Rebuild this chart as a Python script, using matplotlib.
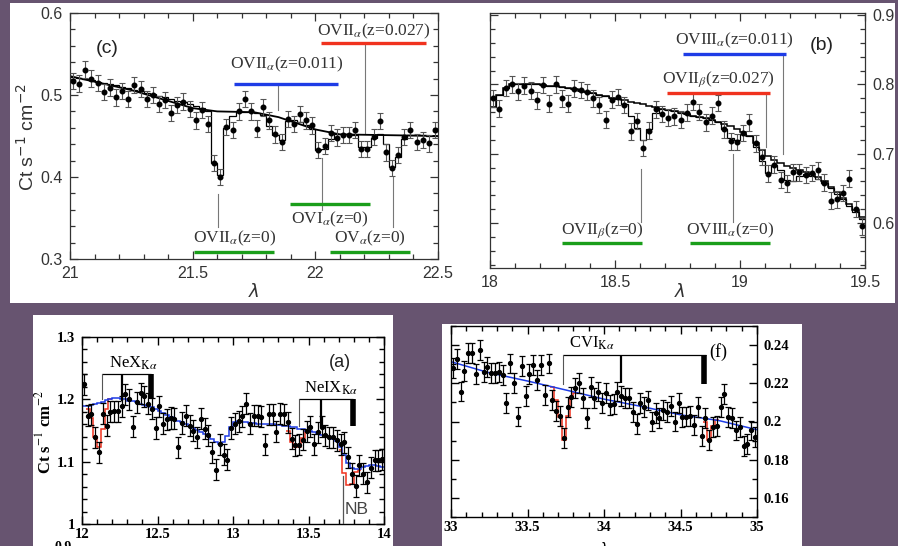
import numpy as np
import matplotlib
matplotlib.use("Agg")
import matplotlib.pyplot as plt
from matplotlib.patches import Rectangle
from matplotlib.ticker import MultipleLocator

# ---------------- spectra (0.025 Å bins) ----------------
# (c) 21.0 - 22.5 Å
c_lam0, c_dlam = 21.0, 0.025
c_flux = [0.517, 0.514, 0.531, 0.520, 0.515, 0.504, 0.509, 0.497, 0.505, 0.495,
          0.512, 0.507, 0.495, 0.500, 0.489, 0.494, 0.478, 0.488, 0.492, 0.483,
          0.469, 0.482, 0.465, 0.417, 0.400, 0.461, 0.457, 0.480, 0.495, 0.480,
          0.459, 0.485, 0.469, 0.452, 0.443, 0.471, 0.465, 0.477, 0.469, 0.463,
          0.433, 0.438, 0.454, 0.448, 0.451, 0.451, 0.457, 0.434, 0.434, 0.449,
          0.468, 0.430, 0.411, 0.427, 0.449, 0.457, 0.443, 0.445, 0.441, 0.457]
c_err = 0.010
c_model = [0.522, 0.521, 0.519, 0.518, 0.516, 0.515, 0.513, 0.512, 0.510, 0.508,
           0.506, 0.505, 0.503, 0.501, 0.499, 0.497, 0.495, 0.493, 0.491, 0.489,
           0.486, 0.484, 0.481, 0.417, 0.402, 0.460, 0.474, 0.479, 0.479, 0.479,
           0.478, 0.476, 0.462, 0.451, 0.445, 0.468, 0.470, 0.467, 0.464, 0.458,
           0.433, 0.434, 0.446, 0.453, 0.452, 0.452, 0.451, 0.437, 0.436, 0.448,
           0.452, 0.440, 0.412, 0.424, 0.446, 0.451, 0.451, 0.451, 0.450, 0.450]
c_cont_lam = [21.0, 21.25, 21.5, 21.6, 21.75, 21.85, 22.0, 22.1, 22.5]
c_cont = [0.523, 0.506, 0.484, 0.480, 0.479, 0.473, 0.458, 0.452, 0.450]

# (b) 18.0 - 19.5 Å
b_lam0, b_dlam = 18.0, 0.025
b_flux = [0.780, 0.765, 0.795, 0.800, 0.790, 0.798, 0.791, 0.777, 0.799, 0.772,
          0.800, 0.780, 0.772, 0.794, 0.792, 0.789, 0.780, 0.770, 0.749, 0.778,
          0.782, 0.770, 0.732, 0.747, 0.708, 0.733, 0.764, 0.757, 0.752, 0.754,
          0.749, 0.759, 0.775, 0.760, 0.745, 0.755, 0.773, 0.735, 0.718, 0.717,
          0.730, 0.745, 0.715, 0.695, 0.671, 0.684, 0.662, 0.657, 0.673, 0.673,
          0.669, 0.672, 0.676, 0.658, 0.632, 0.634, 0.643, 0.664, 0.620, 0.595]
b_err = 0.012
b_cont = [0.768, 0.785, 0.795, 0.800, 0.801, 0.801, 0.800, 0.800, 0.799, 0.798,
          0.797, 0.796, 0.795, 0.793, 0.791, 0.789, 0.787, 0.785, 0.783, 0.781,
          0.779, 0.777, 0.775, 0.773, 0.771, 0.769, 0.767, 0.765, 0.763, 0.761,
          0.759, 0.757, 0.755, 0.753, 0.751, 0.749, 0.746, 0.743, 0.740, 0.736,
          0.731, 0.725, 0.716, 0.706, 0.697, 0.691, 0.686, 0.682, 0.679, 0.676,
          0.673, 0.670, 0.666, 0.660, 0.652, 0.644, 0.636, 0.627, 0.618, 0.608]
b_model = [0.768, 0.785, 0.795, 0.800, 0.801, 0.801, 0.800, 0.800, 0.799, 0.798,
           0.797, 0.796, 0.795, 0.793, 0.791, 0.789, 0.787, 0.785, 0.783, 0.781,
           0.779, 0.772, 0.754, 0.737, 0.720, 0.735, 0.758, 0.765, 0.763, 0.761,
           0.759, 0.757, 0.755, 0.753, 0.751, 0.749, 0.746, 0.735, 0.722, 0.720,
           0.728, 0.725, 0.710, 0.690, 0.672, 0.684, 0.676, 0.662, 0.660, 0.668,
           0.670, 0.668, 0.664, 0.658, 0.650, 0.642, 0.634, 0.625, 0.616, 0.606]

# (a) 12.0 - 14.0 Å
a_lam0, a_dlam = 12.0, 0.025
a_flux = [1.224, 1.174, 1.176, 1.139, 1.115, 1.177, 1.158, 1.180, 1.181, 1.181,
          1.189, 1.208, 1.200, 1.156, 1.195, 1.210, 1.205, 1.193, 1.185, 1.154,
          1.189, 1.161, 1.168, 1.170, 1.169, 1.123, 1.162, 1.174, 1.158, 1.150,
          1.139, 1.169, 1.153, 1.142, 1.115, 1.087, 1.128, 1.111, 1.103, 1.154,
          1.161, 1.165, 1.173, 1.193, 1.161, 1.174, 1.174, 1.172, 1.127, 1.176,
          1.176, 1.148, 1.177, 1.176, 1.163, 1.137, 1.126, 1.127, 1.135, 1.149,
          1.156, 1.128, 1.147, 1.156, 1.142, 1.139, 1.139, 1.134, 1.128, 1.131,
          1.107, 1.081, 1.061, 1.094, 1.081, 1.067, 1.090, 1.102, 1.102, 1.104]
a_err = 0.017
a_cont = [1.190, 1.190, 1.191, 1.192, 1.194, 1.196, 1.199, 1.201, 1.202, 1.202,
          1.201, 1.200, 1.198, 1.197, 1.195, 1.193, 1.191, 1.189, 1.187, 1.184,
          1.181, 1.178, 1.175, 1.172, 1.169, 1.166, 1.163, 1.160, 1.157, 1.154,
          1.151, 1.148, 1.145, 1.141, 1.137, 1.132, 1.128, 1.132, 1.141, 1.155,
          1.163, 1.165, 1.164, 1.163, 1.162, 1.162, 1.161, 1.161, 1.160, 1.160,
          1.160, 1.159, 1.159, 1.158, 1.157, 1.156, 1.155, 1.153, 1.152, 1.150,
          1.149, 1.147, 1.145, 1.143, 1.142, 1.140, 1.137, 1.133, 1.124, 1.110,
          1.098, 1.090, 1.088, 1.089, 1.091, 1.093, 1.094, 1.094, 1.093, 1.092]
# absorbed model where it departs from the continuum: (first bin, values)
a_dips = [(1, [1.185, 1.170, 1.140, 1.123, 1.153, 1.185, 1.200]),
          (54, [1.150, 1.131, 1.123, 1.124, 1.138, 1.150]),
          (68, [1.118, 1.082, 1.062, 1.064, 1.083, 1.086])]

# (f) 33.0 - 35.0 Å
f_lam0, f_dlam = 33.0, 0.025
f_flux = [0.2278, 0.2325, 0.2157, 0.2266, 0.2357, 0.2357, 0.2249, 0.2374, 0.2261, 0.2287,
          0.2256, 0.2252, 0.2261, 0.2243, 0.2099, 0.2304, 0.2200, 0.2026, 0.2290, 0.2134,
          0.2249, 0.2294, 0.2217, 0.2297, 0.2139, 0.2304, 0.2113, 0.2056, 0.2031, 0.1913,
          0.2075, 0.2130, 0.2174, 0.2203, 0.2122, 0.2017, 0.2179, 0.2122, 0.2157, 0.2096,
          0.2148, 0.2087, 0.2092, 0.2157, 0.2134, 0.2125, 0.2122, 0.2052, 0.1988, 0.2096,
          0.2078, 0.2110, 0.2000, 0.2043, 0.2017, 0.2061, 0.2052, 0.2082, 0.2000, 0.2096,
          0.2023, 0.2026, 0.2030, 0.1983, 0.2078, 0.1922, 0.2017, 0.1901, 0.1970, 0.1977,
          0.2075, 0.2144, 0.2023, 0.2017, 0.1953, 0.1970, 0.1873, 0.1883, 0.1953, 0.1918]
f_err = 0.0052
f_cont_lam = [33.0, 33.25, 33.5, 33.75, 34.0, 34.25, 34.5, 34.75, 35.0]
f_cont = [0.2313, 0.2255, 0.2212, 0.2165, 0.2117, 0.2078, 0.2035, 0.2005, 0.1957]
f_dips = [(26, [0.2180, 0.2110, 0.2025, 0.1905, 0.2030, 0.2125, 0.2150]),
          (66, [0.2000, 0.1905, 0.1977, 0.2009])]

# ---------------- figure ----------------
W, H = 898, 546
SANS = "Liberation Sans"
SERIF = "Liberation Serif"
BG = "#675470"
RED, BLUE, GREEN = "#f0321e", "#1e3ce6", "#1a9e1a"

fig = plt.figure(figsize=(W / 100, H / 100), dpi=100, facecolor=BG)


def box(x0, y0, x1, y1):
    fig.patches.append(Rectangle((x0 / W, 1 - y1 / H), (x1 - x0) / W, (y1 - y0) / H,
                                 transform=fig.transFigure, facecolor="white",
                                 edgecolor="none", zorder=-10))


def axes_px(x0, y0, x1, y1):
    return fig.add_axes([x0 / W, 1 - y1 / H, (x1 - x0) / W, (y1 - y0) / H],
                        zorder=2)


def ftext(px, py, s, **kw):
    fig.text(px / W, 1 - py / H, s, zorder=5, **kw)


def grid(lam0, dlam, n):
    edges = lam0 + dlam * np.arange(n + 1)
    return edges, edges[:-1] + dlam / 2


def frame(ax, xt, xl, yt, yl, xminor, yminor, font, size, weight, color, lw,
          right=False, pad=(5, 6)):
    ax.set_xticks(xt, xl)
    ax.set_yticks(yt, yl)
    ax.xaxis.set_minor_locator(MultipleLocator(xminor))
    ax.yaxis.set_minor_locator(MultipleLocator(yminor))
    ax.tick_params(which="both", direction="in", top=True, right=True,
                   color=color, width=lw)
    ax.tick_params(which="major", length=6)
    ax.tick_params(which="minor", length=3.5)
    ax.tick_params(axis="x", pad=pad[0])
    ax.tick_params(axis="y", pad=pad[1], labelleft=not right, labelright=right)
    for lab in ax.get_xticklabels() + ax.get_yticklabels():
        lab.set_fontfamily(font)
        lab.set_fontsize(size)
        lab.set_fontweight(weight)
        lab.set_color(color)
    for sp in ax.spines.values():
        sp.set_color(color)
        sp.set_linewidth(lw)
    ax.set_facecolor("white")


box(10, 3, 895, 303)
box(33, 315, 393, 546)
box(442, 324, 802, 546)

# ---------- panel (c) ----------
ax = axes_px(70, 13, 438, 259)
ax.set_xlim(21, 22.5)
ax.set_ylim(0.3, 0.6)
edges, lam = grid(c_lam0, c_dlam, len(c_flux))
ax.errorbar(lam, c_flux, yerr=c_err, fmt="o", ms=3.3, color="k", ecolor="#555",
            elinewidth=0.8, capsize=2, capthick=0.8, zorder=3)
ax.stairs(c_model, edges, baseline=None, color="k", lw=0.9, zorder=2)
ax.plot(c_cont_lam, c_cont, color="k", lw=1.3, zorder=2)
frame(ax, [21, 21.5, 22, 22.5], ["21", "21.5", "22", "22.5"],
      [0.3, 0.4, 0.5, 0.6], ["0.3", "0.4", "0.5", "0.6"], 0.1, 0.02,
      SANS, 11.5, "normal", "#333", 0.9, pad=(5, 5))

ann = dict(family=SERIF, fontsize=12.5, color="#333", ha="center",
           math_fontfamily="stix")
# colored markers: (x0, x1, y, color, label, label_y, va, line_x, line_y0, line_y1)
c_marks = [(22.025, 22.45, 0.563, RED, r"OVII$_\alpha$(z=0.027)", 0.566, "bottom", 22.203, 0.454, 0.563),
           (21.67, 22.094, 0.513, BLUE, r"OVII$_\alpha$(z=0.011)", 0.525, "bottom", 21.849, 0.482, 0.513),
           (21.506, 21.832, 0.309, GREEN, r"OVII$_\alpha$(z=0)", 0.314, "bottom", 21.605, 0.339, 0.379),
           (21.897, 22.223, 0.367, GREEN, r"OVI$_\alpha$(z=0)", 0.360, "top", 22.026, 0.360, 0.423),
           (22.06, 22.386, 0.309, GREEN, r"OV$_\alpha$(z=0)", 0.314, "bottom", 22.315, 0.339, 0.400)]
for x0, x1, y, col, lab, ly, va, lx, l0, l1 in c_marks:
    ax.plot([lx, lx], [l0, l1], color="#777", lw=0.8, zorder=1)
    ax.plot([x0, x1], [y, y], color=col, lw=2.4, solid_capstyle="butt", zorder=4)
    ax.text((x0 + x1) / 2, ly, lab, va=va, **ann)
ax.text(21.15, 0.557, "(c)", family=SANS, fontsize=14, color="#222",
        ha="center", va="center")
ftext(27, 137, r"Ct s$^{-1}$ cm$^{-2}$", rotation=90, ha="center", va="center",
      family=SANS, fontsize=14, color="#333", math_fontfamily="dejavusans")
ftext(254, 292, r"$\lambda$", ha="center", va="center", fontsize=13,
      color="#333", math_fontfamily="dejavusans")

# ---------- panel (b) ----------
ax = axes_px(490, 13, 865, 268)
ax.set_xlim(18, 19.5)
ax.set_ylim(0.535, 0.903)
edges, lam = grid(b_lam0, b_dlam, len(b_flux))
ax.errorbar(lam, b_flux, yerr=b_err, fmt="o", ms=3.3, color="k", ecolor="#555",
            elinewidth=0.8, capsize=2, capthick=0.8, zorder=3)
ax.stairs(b_cont, edges, baseline=None, color="k", lw=1.1, zorder=2)
ax.stairs(b_model, edges, baseline=None, color="k", lw=0.9, zorder=2)
frame(ax, [18, 18.5, 19, 19.5], ["18", "18.5", "19", "19.5"],
      [0.6, 0.7, 0.8, 0.9], ["0.6", "0.7", "0.8", "0.9"], 0.1, 0.02,
      SANS, 11.5, "normal", "#333", 0.9, right=True, pad=(5, 5))
b_marks = [(18.771, 19.184, 0.844, BLUE, r"OVIII$_\alpha$(z=0.011)", 0.850, "bottom", 19.171, 0.700, 0.844),
           (18.707, 19.12, 0.787, RED, r"OVII$_\beta$(z=0.027)", 0.794, "bottom", 19.104, 0.709, 0.787),
           (18.289, 18.607, 0.571, GREEN, r"OVII$_\beta$(z=0)", 0.576, "bottom", 18.603, 0.601, 0.678),
           (18.8, 19.12, 0.571, GREEN, r"OVIII$_\alpha$(z=0)", 0.576, "bottom", 18.973, 0.601, 0.700)]
for x0, x1, y, col, lab, ly, va, lx, l0, l1 in b_marks:
    ax.plot([lx, lx], [l0, l1], color="#777", lw=0.8, zorder=1)
    ax.plot([x0, x1], [y, y], color=col, lw=2.4, solid_capstyle="butt", zorder=4)
    ax.text((x0 + x1) / 2, ly, lab, va=va, **ann)
ax.text(19.327, 0.856, "(b)", family=SANS, fontsize=14, color="#222",
        ha="center", va="center")
ftext(680, 292, r"$\lambda$", ha="center", va="center", fontsize=13,
      color="#333", math_fontfamily="dejavusans")

# ---------- panel (a) ----------
ax = axes_px(82, 337, 384, 524)
ax.set_xlim(12, 14)
ax.set_ylim(1.0, 1.3)
edges, lam = grid(a_lam0, a_dlam, len(a_flux))
ax.errorbar(lam, a_flux, yerr=a_err, fmt="o", ms=2.8, color="k", ecolor="k",
            elinewidth=0.9, capsize=2, capthick=0.9, zorder=3)
for first, vals in a_dips:
    e = a_lam0 + a_dlam * np.arange(first, first + len(vals) + 1)
    ax.stairs(vals, e, baseline=None, color=RED, lw=1.1, zorder=2)
ax.stairs(a_cont, edges, baseline=None, color=BLUE, lw=1.1, zorder=2.5)
frame(ax, [12, 12.5, 13, 13.5, 14], ["12", "12.5", "13", "13.5", "14"],
      [1.0, 1.1, 1.2, 1.3], ["1", "1.1", "1.2", "1.3"], 0.1, 0.02,
      SERIF, 10.5, "bold", "k", 1.0, pad=(3, 5))
br = dict(color="k", solid_capstyle="butt", zorder=4)
# NeX bracket
ax.plot([12.13, 12.46], [1.241, 1.241], lw=0.9, **br)
ax.plot([12.13, 12.13], [1.241, 1.200], lw=0.8, color="#555", zorder=4)
ax.plot([12.262, 12.262], [1.241, 1.198], lw=1.6, **br)
ax.plot([12.455, 12.455], [1.241, 1.200], lw=4.0, **br)
ax.text(12.34, 1.244, r"NeX$_{\mathrm{K}\alpha}$", ha="center", va="bottom",
        family=SERIF, fontsize=12, math_fontfamily="stix")
# NeIX bracket
ax.plot([13.434, 13.795], [1.200, 1.200], lw=0.9, **br)
ax.plot([13.434, 13.434], [1.200, 1.158], lw=0.8, color="#555", zorder=4)
ax.plot([13.582, 13.582], [1.200, 1.156], lw=1.6, **br)
ax.plot([13.795, 13.795], [1.200, 1.158], lw=4.0, **br)
ax.text(13.65, 1.203, r"NeIX$_{\mathrm{K}\alpha}$", ha="center", va="bottom",
        family=SERIF, fontsize=12, math_fontfamily="stix")
ax.plot([13.73, 13.73], [1.002, 1.077], color="#555", lw=0.9, zorder=4)
ax.text(13.738, 1.024, "NB", family=SANS, fontsize=12.5, color="#444",
        ha="left", va="center")
ax.text(13.71, 1.259, "(a)", family=SANS, fontsize=13, color="#222",
        ha="center", va="center")
ftext(44, 432, r"Ct s$^{-1}$ cm$^{-2}$", rotation=90, ha="center", va="center",
      family=SERIF, fontsize=12, fontweight="bold", math_fontfamily="stix")
ftext(63, 541, "0.9", ha="center", va="top", family=SERIF, fontsize=10,
      fontweight="bold")

# ---------- panel (f) ----------
ax = axes_px(451, 326, 757, 517)
ax.set_xlim(33, 35)
ax.set_ylim(0.15, 0.25)
edges, lam = grid(f_lam0, f_dlam, len(f_flux))
ax.errorbar(lam, f_flux, yerr=f_err, fmt="o", ms=2.8, color="k", ecolor="k",
            elinewidth=0.9, capsize=2, capthick=0.9, zorder=3)
for first, vals in f_dips:
    e = f_lam0 + f_dlam * np.arange(first, first + len(vals) + 1)
    ax.stairs(vals, e, baseline=None, color=RED, lw=1.1, zorder=2)
ax.plot(f_cont_lam, f_cont, color=BLUE, lw=1.1, zorder=2.5)
frame(ax, [33, 33.5, 34, 34.5, 35], ["33", "33.5", "34", "34.5", "35"],
      [0.16, 0.18, 0.2, 0.22, 0.24], ["0.16", "0.18", "0.2", "0.22", "0.24"],
      0.1, 0.01, SERIF, 10.5, "bold", "k", 1.0, right=True, pad=(3, 5))
ax.plot([33.73, 34.665], [0.2348, 0.2348], lw=0.9, **br)
ax.plot([33.73, 33.73], [0.2348, 0.2197], lw=0.8, color="#555", zorder=4)
ax.plot([34.109, 34.109], [0.2348, 0.2203], lw=1.6, **br)
ax.plot([34.655, 34.655], [0.2348, 0.2197], lw=4.0, **br)
ax.text(33.92, 0.2365, r"CVI$_{\mathrm{K}\alpha}$", ha="center", va="bottom",
        family=SERIF, fontsize=12, math_fontfamily="stix")
ax.text(34.75, 0.2365, "(f)", family=SERIF, fontsize=13, ha="center",
        va="center")
ftext(604, 541, r"$\lambda$", ha="center", va="top", fontsize=10,
      math_fontfamily="dejavusans")

fig.savefig("out.png", dpi=100, facecolor=BG)
